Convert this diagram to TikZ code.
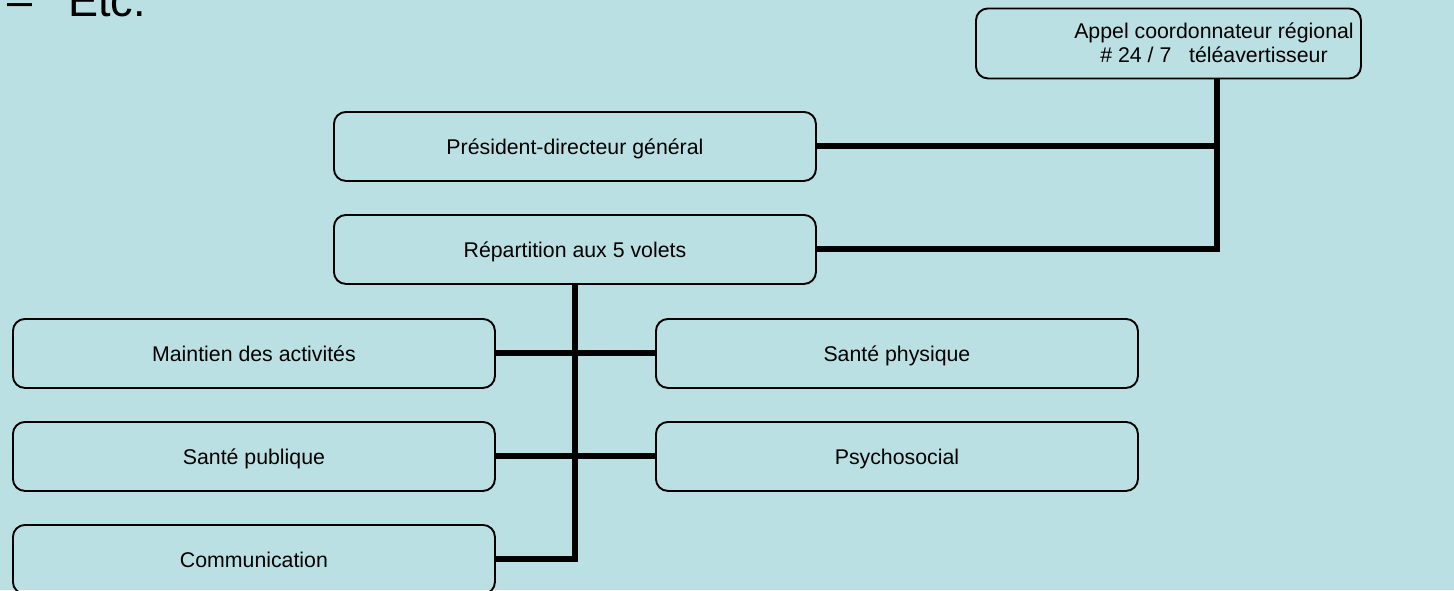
\documentclass[tikz,border=0pt]{standalone}
\usepackage{fontspec}
\setmainfont{Liberation Sans}
\definecolor{bgblue}{RGB}{186,224,227}
\begin{document}
\begin{tikzpicture}[x=1pt,y=-1pt,
  box/.style={draw=black,line width=1.9pt,rounded corners=12pt,
    minimum width=482pt,minimum height=69pt,inner sep=0pt,
    anchor=north west,text height=17pt,text depth=0pt,
    font=\fontsize{21.3}{24}\selectfont},
  conn/.style={draw=black,line width=6pt},
  txt/.style={inner sep=0pt,font=\fontsize{21.3}{24}\selectfont}]
\useasboundingbox (0,0) rectangle (1454,590);
\fill[bgblue] (0,0) rectangle (1454,590);
% heading
\node[inner sep=0pt,anchor=base west,font=\fontsize{45}{50}\selectfont] (dash) at (7,16) {–};
\node[inner sep=0pt,anchor=base west,font=\fontsize{45}{50}\selectfont] (etc) at (68,16) {Etc.};
% boxes
\node[box,minimum width=385pt,minimum height=70pt] (tr) at (975,7.5) {};
\node[txt,align=center,anchor=base] (trt) at (1214,62) {Appel coordonnateur régional\\[0pt]\# 24 / 7\ \ \ téléavertisseur};
\node[box] (pdg) at (333,111) {Président-directeur général};
\node[box] (rep) at (333,214) {Répartition aux 5 volets};
\node[box] (maint) at (12,318) {Maintien des activités};
\node[box] (spub) at (12,421) {Santé publique};
\node[box] (comm) at (12,524) {Communication};
\node[box] (sphys) at (655,318) {Santé physique};
\node[box] (psy) at (655,421) {Psychosocial};
% connectors
\coordinate (trbot) at (1216.5,77.5);
\draw[conn] (trbot) |- (rep.east);
\draw[conn] (pdg.east) -- (pdg.east -| trbot);
\draw[conn] (rep.south) |- (comm.east);
\draw[conn] (maint.east) -- (sphys.west);
\draw[conn] (spub.east) -- (psy.west);
\end{tikzpicture}
\end{document}
